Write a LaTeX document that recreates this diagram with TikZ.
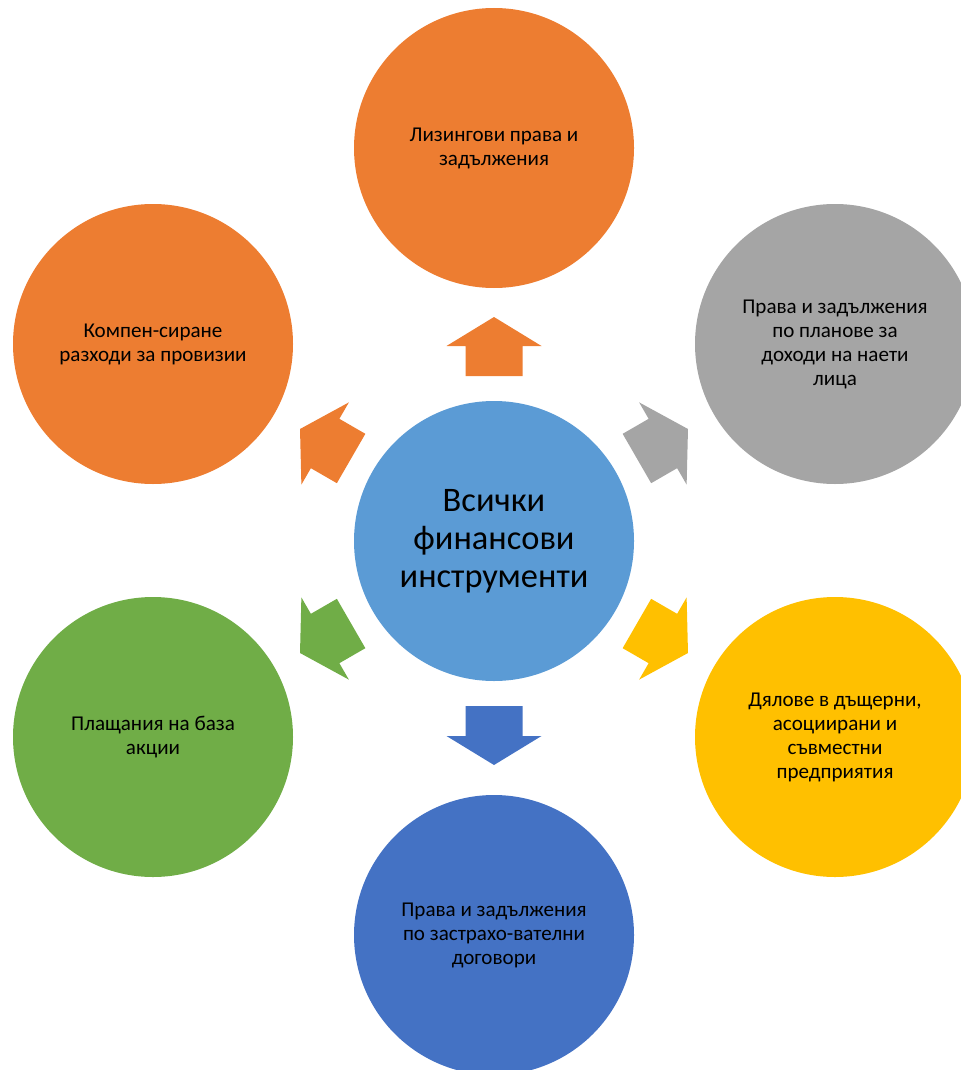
\documentclass[tikz,border=0pt]{standalone}
\usepackage{fontspec}
\setmainfont{Carlito}
\definecolor{hubblue}{HTML}{5B9BD5}
\definecolor{offorange}{HTML}{ED7D31}
\definecolor{offgrey}{HTML}{A5A5A5}
\definecolor{offgold}{HTML}{FFC000}
\definecolor{offblue}{HTML}{4472C4}
\definecolor{offgreen}{HTML}{70AD47}
\tikzset{
  bubble/.style={circle,minimum size=210pt,inner sep=0pt,align=center,
    font=\fontsize{15.8}{18}\selectfont},
  hubtext/.style={font=\fontsize{25.8}{28.5}\selectfont}
}

\begin{document}
\begin{tikzpicture}[x=0.75pt,y=-0.75pt]
    \useasboundingbox (0,0) rectangle (960,1070);
    \node[bubble,hubtext,fill=hubblue] (hub) at (494,541) {Всички\\финансови\\инструменти};

    \node[bubble,fill=offorange] (lease) at (494,148) {Лизингови права и\\задължения};
    \node[bubble,fill=offgrey] (plans) at (835,344) {Права и задължения\\по планове за\\доходи на наети\\лица};
    \node[bubble,fill=offgold] (shares) at (835,737) {Дялове в дъщерни,\\асоциирани и\\съвместни\\предприятия};
    \node[bubble,fill=offblue] (insur) at (494,935) {Права и задължения\\по застрахо-вателни\\договори};
    \node[bubble,fill=offgreen] (payment) at (153,737) {Плащания на база\\акции};
    \node[bubble,fill=offorange] (provis) at (153,344) {Компен-сиране\\разходи за провизии};

    \foreach \ang/\col in {90/offorange,30/offgrey,-30/offgold,-90/offblue,-150/offgreen,150/offorange}
      \fill[\col,shift={(hub.center)},rotate=\ang]
        (165,-28.5) -- (195,-28.5) -- (195,-47.5) -- (224,0) -- (195,47.5) -- (195,28.5) -- (165,28.5) -- cycle;
\end{tikzpicture}
\end{document}
